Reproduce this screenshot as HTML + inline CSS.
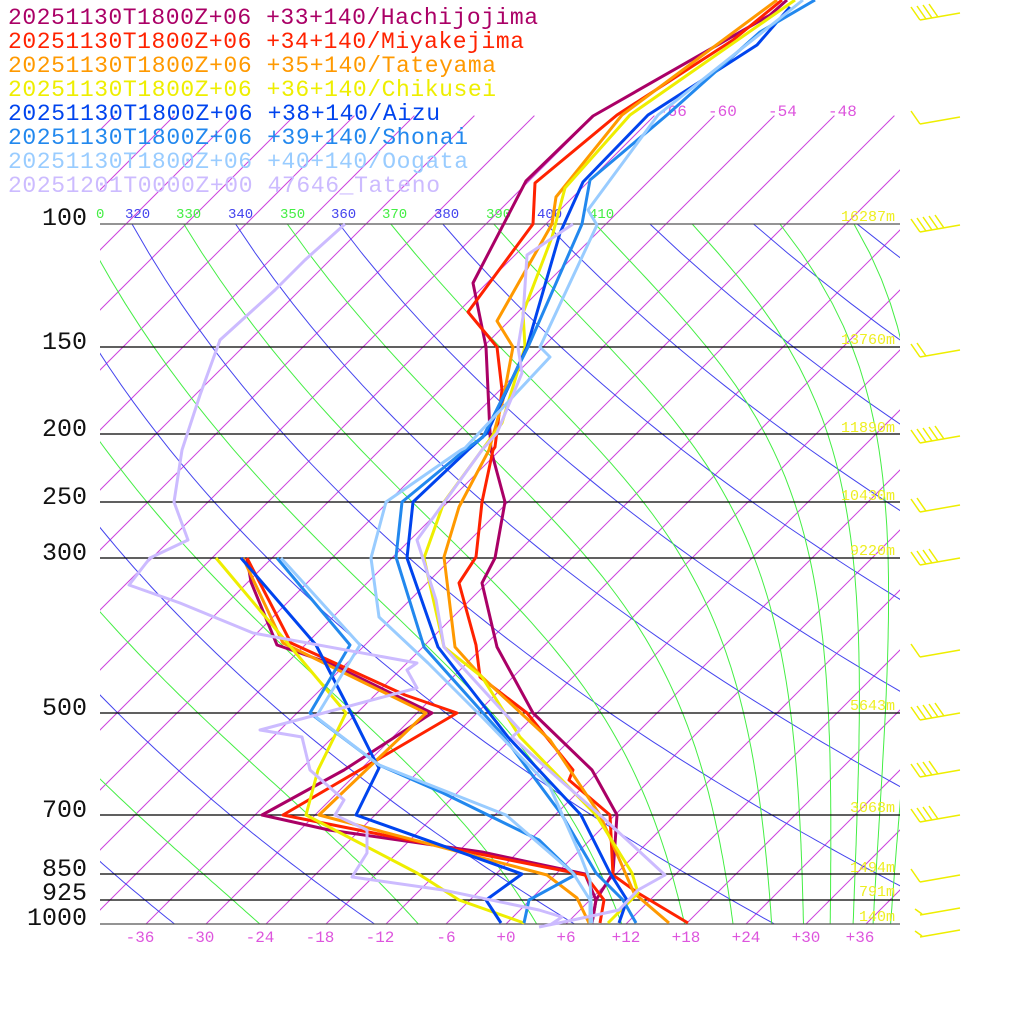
<!DOCTYPE html>
<html><head><meta charset="utf-8"><style>
body{margin:0;background:#fff;width:1024px;height:1024px;overflow:hidden}
svg{display:block}
text{font-family:"Liberation Mono",monospace}
</style></head><body>
<svg id="s" width="1024" height="1024" viewBox="0 0 1024 1024" xmlns="http://www.w3.org/2000/svg">
<defs>
<clipPath id="c1"><rect x="100" y="224" width="800" height="700"/></clipPath>
<clipPath id="c2"><rect x="100" y="115" width="800" height="809"/></clipPath>
</defs>
<g id="iso" clip-path="url(#c2)" stroke="#cc44dd" stroke-width="1" fill="none"></g>
<g id="ad" clip-path="url(#c1)" fill="none" stroke-width="1"></g>
<g stroke="#000" stroke-width="1.3">
<line x1="100" y1="224" x2="900" y2="224" stroke="#555"/>
<line x1="100" y1="347" x2="900" y2="347"/>
<line x1="100" y1="434" x2="900" y2="434"/>
<line x1="100" y1="502" x2="900" y2="502"/>
<line x1="100" y1="558" x2="900" y2="558"/>
<line x1="100" y1="713" x2="900" y2="713"/>
<line x1="100" y1="815" x2="900" y2="815"/>
<line x1="100" y1="874" x2="900" y2="874"/>
<line x1="100" y1="900" x2="900" y2="900"/>
<line x1="100" y1="924" x2="900" y2="924" stroke="#555"/>
</g>
<g font-size="25" fill="#111" text-anchor="end" style="font-family:'Liberation Sans',sans-serif">
<text x="87" y="225">100</text><text x="87" y="349">150</text><text x="87" y="436">200</text>
<text x="87" y="504">250</text><text x="87" y="560">300</text><text x="87" y="715">500</text>
<text x="87" y="817">700</text><text x="87" y="876">850</text><text x="87" y="900">925</text>
<text x="87" y="925">1000</text>
</g>
<g font-size="14">
<text x="96" y="218" fill="#44ee44">0</text>
<text x="125" y="218" fill="#4444ee">320</text><text x="176" y="218" fill="#44ee44">330</text>
<text x="228" y="218" fill="#4444ee">340</text><text x="280" y="218" fill="#44ee44">350</text>
<text x="331" y="218" fill="#4444ee">360</text><text x="382" y="218" fill="#44ee44">370</text>
<text x="434" y="218" fill="#4444ee">380</text><text x="486" y="218" fill="#44ee44">390</text>
<text x="537" y="218" fill="#4444ee">400</text><text x="589" y="218" fill="#44ee44">410</text>
</g>
<g font-size="16" fill="#dd55dd">
<text x="658" y="116">-66</text><text x="708" y="116">-60</text><text x="768" y="116">-54</text><text x="828" y="116">-48</text>
</g>
<g font-size="16" fill="#dd55dd" text-anchor="middle">
<text x="140" y="942">-36</text><text x="200" y="942">-30</text><text x="260" y="942">-24</text>
<text x="320" y="942">-18</text><text x="380" y="942">-12</text><text x="446" y="942">-6</text>
<text x="506" y="942">+0</text><text x="566" y="942">+6</text><text x="626" y="942">+12</text>
<text x="686" y="942">+18</text><text x="746" y="942">+24</text><text x="806" y="942">+30</text>
<text x="860" y="942">+36</text>
</g>
<g font-size="15" fill="#eeee22" text-anchor="end">
<text x="895" y="221">16287m</text><text x="895" y="344">13760m</text><text x="895" y="432">11890m</text>
<text x="895" y="500">10430m</text><text x="895" y="555">9220m</text><text x="895" y="710">5643m</text>
<text x="895" y="812">3068m</text><text x="895" y="872">1494m</text><text x="895" y="896">791m</text>
<text x="895" y="921">140m</text>
</g>
<g fill="none" stroke-width="3" stroke-linejoin="round">
<polyline stroke="#aa0066" points="787,0 770,15 593,116 526,181 473,283 486,347 490,433 491,450 505,502 495,558 482,583 497,647 533,713 592,770 617,815 613,873 596,900 592,923"/>
<polyline stroke="#aa0066" points="247,558 251,582 277,645 329,663 432,713 344,770 262,815 329,830 482,852 585,874 596,900 592,923"/>
<polyline stroke="#ff2200" points="782,0 733,40 617,115 535,183 533,224 468,312 497,347 502,390 495,447 493,450 482,502 476,557 459,583 476,645 480,677 527,713 573,770 569,780 610,815 613,875 638,893 688,923"/>
<polyline stroke="#ff2200" points="247,558 291,643 405,695 457,713 283,815 585,875 604,900 600,923"/>
<polyline stroke="#ff9900" points="777,0 622,115 556,197 552,224 497,321 513,347 503,400 489,450 459,507 444,557 455,647 482,677 550,740 600,815 634,893 669,923"/>
<polyline stroke="#ff9900" points="243,558 283,643 426,713 319,815 547,875 577,898 589,923"/>
<polyline stroke="#eeee00" points="795,0 630,115 565,188 552,237 523,313 525,347 502,423 482,450 444,502 424,558 444,647 482,677 520,737 596,815 632,873 638,893 608,923"/>
<polyline stroke="#eeee00" points="216,558 321,683 346,713 318,770 306,815 417,873 459,900 524,923"/>
<polyline stroke="#0044ee" points="790,7 757,45 648,115 583,182 560,233 527,347 487,433 468,450 413,502 407,558 438,647 508,737 581,815 610,873 627,900 619,923"/>
<polyline stroke="#0044ee" points="241,558 316,645 348,707 373,757 379,768 356,815 522,874 486,900 501,923"/>
<polyline stroke="#2288ee" points="815,0 760,32 667,115 590,180 582,224 528,347 483,437 465,450 402,502 396,557 424,647 501,733 562,815 596,873 623,900 636,923"/>
<polyline stroke="#2288ee" points="277,558 350,645 310,713 379,765 443,793 539,840 575,875 529,900 524,923"/>
<polyline stroke="#99ccff" points="803,0 658,115 588,210 597,225 540,347 550,357 465,448 461,450 386,502 371,558 379,617 428,663 482,717 550,787 581,857 590,880 592,923"/>
<polyline stroke="#99ccff" points="281,558 360,645 316,717 379,765 506,815 573,873 590,900 590,923"/>
<polyline stroke="#ccbbff" points="573,224 527,255 523,317 518,347 522,373 497,433 482,450 417,540 436,600 444,647 520,730 512,737 560,780 600,815 665,875 638,890 619,910 573,920 539,927"/>
<polyline stroke="#ccbbff" points="345,224 305,260 275,290 220,340 200,395 182,450 174,502 188,540 150,558 129,585 180,603 253,633 417,663 407,670 417,688 260,730 302,737 310,770 344,800 335,815 367,830 367,853 352,877 443,890 539,910 562,917 550,925"/>
</g>
<g font-size="23">
<text x="8" y="24" fill="#aa0066" textLength="530">20251130T1800Z+06 +33+140/Hachijojima</text>
<text x="8" y="48" fill="#ff2200" textLength="516">20251130T1800Z+06 +34+140/Miyakejima</text>
<text x="8" y="72" fill="#ff9900" textLength="488">20251130T1800Z+06 +35+140/Tateyama</text>
<text x="8" y="96" fill="#eeee00" textLength="488">20251130T1800Z+06 +36+140/Chikusei</text>
<text x="8" y="120" fill="#0044ee" textLength="432">20251130T1800Z+06 +38+140/Aizu</text>
<text x="8" y="144" fill="#2288ee" textLength="460">20251130T1800Z+06 +39+140/Shonai</text>
<text x="8" y="168" fill="#99ccff" textLength="460">20251130T1800Z+06 +40+140/Oogata</text>
<text x="8" y="192" fill="#ccbbff" textLength="432">20251201T0000Z+00 47646_Tateno</text>
</g>
<g id="barbs" stroke="#eeee00" stroke-width="1.5" fill="none"></g>
</svg>
<script>
var NS="http://www.w3.org/2000/svg";
function Y(p){return 924-304*Math.log(1000/p);}
function X(t,p){return 506+10*t+(924-Y(p));}
function add(g,d,c){var e=document.createElementNS(NS,"path");e.setAttribute("d",d);if(c)e.setAttribute("stroke",c);document.getElementById(g).appendChild(e);}
for(var T=-150;T<=48;T+=6){add("iso","M"+X(T,1000)+","+Y(1000)+"L"+X(T,70)+","+Y(70));}
var ps=[];for(var p=1000;p>=100;p-=10)ps.push(p);
for(var th=200;th<=460;th+=20){var d="";ps.forEach(function(p,i){var t=th*Math.pow(p/1000,0.2857)-273.15;d+=(i?"L":"M")+X(t,p).toFixed(1)+","+Y(p).toFixed(1);});add("ad",d,"#4444ee");}
function the(T,p){var tc=T-273.15;var es=6.112*Math.exp(17.67*tc/(tc+243.5));var r=0.622*es/(p-es);return T*Math.pow(1000/p,0.2857)*Math.exp(2.83e6*r/(1004*T));}
for(var te=210;te<=470;te+=20){var d="";ps.forEach(function(p,i){var lo=120,hi=330;for(var k=0;k<40;k++){var m=(lo+hi)/2;if(the(m,p)>te)hi=m;else lo=m;}var t=lo-273.15;d+=(i?"L":"M")+X(t,p).toFixed(1)+","+Y(p).toFixed(1);});add("ad",d,"#44ee44");}
var bl=[[13,4],[117,1],[225,5],[350,2],[436,5],[505,2],[558,4],[650,1],[713,5],[770,4],[815,4],[875,1],[908,-1],[930,-1]];
bl.forEach(function(b){var y=b[0];var d="M920,"+(y+7)+"L960,"+y;var n=b[1];
if(n<0){d+="M922,"+(y+6)+"L915,"+(y+1);}
else for(var i=0;i<n;i++){var x=920+6*i,yy=y+7-i*1;d+="M"+x+","+yy+"L"+(x-9)+","+(yy-13);}
add("barbs",d);});
</script>
</body></html>
